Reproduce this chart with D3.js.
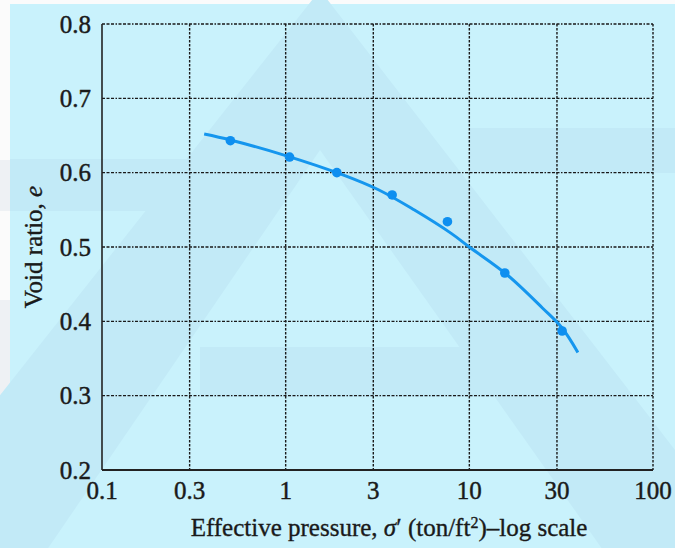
<!DOCTYPE html>
<html>
<head>
<meta charset="utf-8">
<script src="https://cdn.jsdelivr.net/npm/d3@7"></script>
<style>
  html, body { margin: 0; padding: 0; background: #fbfbfb; }
  svg { display: block; }
  .tick-label { font-family: "Liberation Serif", "Times New Roman", serif; font-size: 25px; fill: #1a1a1a; stroke: #1a1a1a; stroke-width: 0.45px; }
  .axis-title { font-family: "Liberation Serif", "Times New Roman", serif; font-size: 25px; fill: #1a1a1a; stroke: #1a1a1a; stroke-width: 0.35px; }
</style>
</head>
<body>
<div id="chart"></div>
<script>
// --- data ---
const pressure = [0.5, 1.05, 1.9, 3.8, 7.6, 15.6, 32];
const voidRatio = [0.643, 0.621, 0.600, 0.570, 0.534, 0.465, 0.387];

// fitted curve through the points
const curvePressure = [0.36, 0.5, 1, 2, 3.2, 5, 8, 10, 16, 25, 32, 39];
const curveVoid = [0.652, 0.644, 0.623, 0.598, 0.577, 0.550, 0.518, 0.500, 0.463, 0.418, 0.391, 0.358];

const xTicks = [0.1, 0.3, 1, 3, 10, 30, 100];
const yTicks = [0.2, 0.3, 0.4, 0.5, 0.6, 0.7, 0.8];

const W = 675, H = 548;
const margin = { left: 102, top: 24, right: 22, bottom: 78 };

const svg = d3.select("#chart").append("svg")
    .attr("width", W).attr("height", H);

// background panel + faint watermark shapes
svg.append("rect").attr("x", 0).attr("y", 0).attr("width", W).attr("height", H).attr("fill", "#fbfbfb");
svg.append("path")
    .attr("d", "M0,160 L10,160 L10,211 L0,211 Z M0,300 L10,300 L10,520 L0,520 Z")
    .attr("fill", "#eef1f4");
svg.append("rect").attr("x", 10).attr("y", 4).attr("width", W - 10).attr("height", H - 4).attr("fill", "#c9f2fc");

const wm = svg.append("g").attr("fill", "#c2eaf7");
wm.append("path")
    .attr("fill-rule", "evenodd")
    .attr("d", "M320,-10 L760,560 L-130,560 Z M320,150 L610,560 L40,560 Z");
wm.append("rect").attr("x", 10).attr("y", 159).attr("width", 200).attr("height", 52);
wm.append("rect").attr("x", 470).attr("y", 128).attr("width", 205).attr("height", 45);
wm.append("rect").attr("x", 200).attr("y", 347).attr("width", 300).attr("height", 50);

const x = d3.scaleLog().domain([0.1, 100]).range([margin.left, W - margin.right]);
const y = d3.scaleLinear().domain([0.2, 0.8]).range([H - margin.bottom, margin.top]);

// grid
const grid = svg.append("g").attr("stroke", "#1a1a1a").attr("stroke-width", 1.4).attr("fill", "none");
grid.selectAll(".hgrid").data(yTicks.filter(d => d > 0.2)).enter().append("line")
    .attr("class", "hgrid")
    .attr("x1", x(0.1)).attr("x2", x(100))
    .attr("y1", d => y(d)).attr("y2", d => y(d))
    .attr("stroke-dasharray", "3,1.5,3,1.5,3,1.5,1.5,1.5");
grid.selectAll(".vgrid").data(xTicks.filter(d => d > 0.1)).enter().append("line")
    .attr("class", "vgrid")
    .attr("x1", d => x(d)).attr("x2", d => x(d))
    .attr("y1", y(0.8)).attr("y2", y(0.2))
    .attr("stroke-dasharray", "2.5,1.5");

// axes lines
svg.append("line").attr("x1", x(0.1)).attr("x2", x(0.1)).attr("y1", y(0.8)).attr("y2", y(0.2))
    .attr("stroke", "#222").attr("stroke-width", 1.6);
svg.append("line").attr("x1", x(0.1)).attr("x2", x(100)).attr("y1", y(0.2)).attr("y2", y(0.2))
    .attr("stroke", "#222").attr("stroke-width", 1.8);

// tick labels
svg.selectAll(".ylab").data(yTicks).enter().append("text")
    .attr("class", "tick-label")
    .attr("x", 91).attr("y", d => y(d))
    .attr("dy", "0.34em")
    .attr("text-anchor", "end")
    .text(d => d.toFixed(1));
svg.selectAll(".xlab").data(xTicks).enter().append("text")
    .attr("class", "tick-label")
    .attr("x", d => x(d)).attr("y", 499)
    .attr("text-anchor", "middle")
    .text(d => d3.format("~g")(d));

// axis titles
const xt = svg.append("text").attr("class", "axis-title")
    .attr("x", 389).attr("y", 536).attr("text-anchor", "middle");
xt.append("tspan").text("Effective pressure, ");
xt.append("tspan").attr("font-style", "italic").text("σ");
xt.append("tspan").text("′ (ton/ft");
xt.append("tspan").attr("baseline-shift", "super").attr("font-size", "16px").text("2");
xt.append("tspan").text(")–log scale");

const yt = svg.append("text").attr("class", "axis-title")
    .attr("font-size", "24px")
    .attr("transform", "translate(42,247) rotate(-90)")
    .attr("text-anchor", "middle");
yt.append("tspan").text("Void ratio, ");
yt.append("tspan").attr("font-style", "italic").text("e");

// fitted curve
const curveData = curvePressure.map((p, i) => [p, curveVoid[i]]);
svg.append("path")
    .datum(curveData)
    .attr("fill", "none")
    .attr("stroke", "#1596ee")
    .attr("stroke-width", 3)
    .attr("d", d3.line().x(d => x(d[0])).y(d => y(d[1])).curve(d3.curveCatmullRom.alpha(0.5)));

// measured points
svg.selectAll(".pt").data(pressure.map((p, i) => [p, voidRatio[i]])).enter().append("circle")
    .attr("class", "pt")
    .attr("cx", d => x(d[0])).attr("cy", d => y(d[1]))
    .attr("r", 4.8)
    .attr("fill", "#0e8ff0");
</script>
</body>
</html>
